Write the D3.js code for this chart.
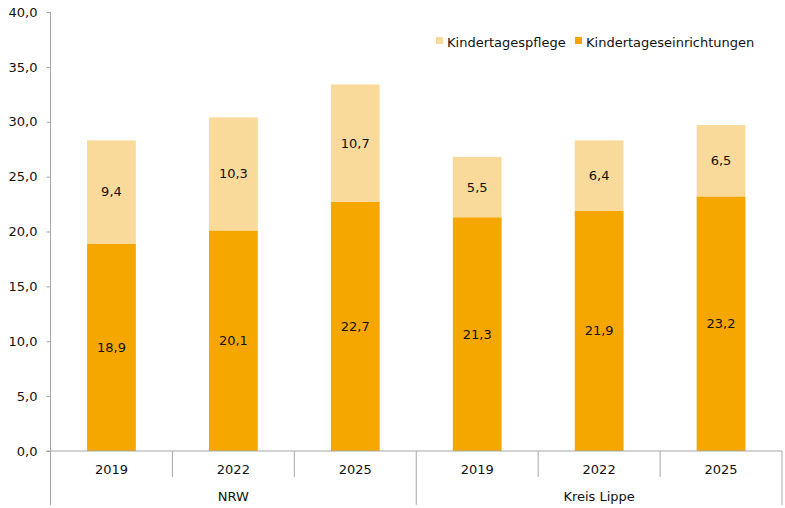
<!DOCTYPE html>
<html>
<head>
<meta charset="utf-8">
<script src="https://cdn.jsdelivr.net/npm/d3@7"></script>
<style>
  body { margin: 0; background: #fff; }
  text { font-family: "DejaVu Sans", sans-serif; font-size: 13px; fill: #111; }
</style>
</head>
<body>
<svg id="chart" width="785" height="508"></svg>
<script>
const groups = ['NRW', 'NRW', 'NRW', 'Kreis Lippe', 'Kreis Lippe', 'Kreis Lippe'];
const years = ['2019', '2022', '2025', '2019', '2022', '2025'];
const einrichtungen = [18.9, 20.1, 22.7, 21.3, 21.9, 23.2];
const pflege = [9.4, 10.3, 10.7, 5.5, 6.4, 6.5];
const yTicks = [0, 5, 10, 15, 20, 25, 30, 35, 40];
const seriesNames = ['Kindertagespflege', 'Kindertageseinrichtungen'];

const colors = { pflege: '#f9da9b', einr: '#f5a700', axis: '#a6a6a6' };
const fmt = (v) => d3.format('.1f')(v).replace('.', ',');

const margin = { left: 50.5, right: 3, top: 12, bottom: 57 };
const width = 785, height = 508;
const svg = d3.select('#chart');

const keys = d3.range(years.length);
const x = d3.scaleBand()
  .domain(keys)
  .range([margin.left, width - margin.right])
  .paddingInner(0.6)
  .paddingOuter(0.3);

const y = d3.scaleLinear()
  .domain([0, 40])
  .range([height - margin.bottom, margin.top]);

const y0 = y(0);

// y axis
const yAxis = svg.append('g')
  .attr('transform', `translate(${margin.left},0)`)
  .call(d3.axisLeft(y).tickValues(yTicks).tickSize(4).tickSizeOuter(0).tickFormat(fmt));
yAxis.select('.domain').attr('stroke', colors.axis).attr('d', `M0,${y(40)}V${y0 + 54}`);
yAxis.selectAll('.tick line').attr('stroke', colors.axis);
yAxis.selectAll('.tick text').attr('x', -13).attr('fill', '#111')
  .style('font-family', '"DejaVu Sans", sans-serif').style('font-size', '13px');

// bars
const step = x.step();
const edge = (i) => x(i) - step * 0.3;

svg.append('g').selectAll('rect')
  .data(keys)
  .join('rect')
  .attr('x', (i) => x(i))
  .attr('width', x.bandwidth())
  .attr('y', (i) => y(einrichtungen[i]))
  .attr('height', (i) => y0 - y(einrichtungen[i]))
  .attr('fill', colors.einr);

svg.append('g').selectAll('rect')
  .data(keys)
  .join('rect')
  .attr('x', (i) => x(i))
  .attr('width', x.bandwidth())
  .attr('y', (i) => y(einrichtungen[i] + pflege[i]))
  .attr('height', (i) => y(einrichtungen[i]) - y(einrichtungen[i] + pflege[i]))
  .attr('fill', colors.pflege);

// value labels
svg.append('g').selectAll('text')
  .data(keys)
  .join('text')
  .attr('x', (i) => x(i) + x.bandwidth() / 2)
  .attr('y', (i) => y(einrichtungen[i] / 2))
  .attr('text-anchor', 'middle')
  .attr('dominant-baseline', 'central')
  .text((i) => fmt(einrichtungen[i]));

svg.append('g').selectAll('text')
  .data(keys)
  .join('text')
  .attr('x', (i) => x(i) + x.bandwidth() / 2)
  .attr('y', (i) => y(einrichtungen[i] + pflege[i] / 2))
  .attr('text-anchor', 'middle')
  .attr('dominant-baseline', 'central')
  .text((i) => fmt(pflege[i]));

// x axis
const xg = svg.append('g');
xg.append('line')
  .attr('x1', margin.left - 4).attr('x2', edge(keys.length - 1) + step)
  .attr('y1', y0).attr('y2', y0)
  .attr('stroke', colors.axis);

const bounds = keys.map(edge).concat([edge(keys.length - 1) + step]);
xg.selectAll('line.sep')
  .data(bounds)
  .join('line')
  .attr('class', 'sep')
  .attr('x1', (d) => d).attr('x2', (d) => d)
  .attr('y1', y0)
  .attr('y2', (d, i) => (i === 0 || i === bounds.length - 1 || groups[i] !== groups[i - 1] ? y0 + 54 : y0 + 26))
  .attr('stroke', colors.axis);

xg.selectAll('text.year')
  .data(keys)
  .join('text')
  .attr('class', 'year')
  .attr('x', (i) => x(i) + x.bandwidth() / 2)
  .attr('y', y0 + 23)
  .attr('text-anchor', 'middle')
  .text((i) => years[i]);

const groupNames = Array.from(new Set(groups));
xg.selectAll('text.group')
  .data(groupNames)
  .join('text')
  .attr('class', 'group')
  .attr('x', (g) => {
    const idx = keys.filter((i) => groups[i] === g);
    return (edge(idx[0]) + edge(idx[idx.length - 1]) + step) / 2;
  })
  .attr('y', y0 + 50)
  .attr('text-anchor', 'middle')
  .text((g) => g);

// legend
const legend = svg.append('g').attr('transform', 'translate(436,47)');
const legendItems = [
  { name: seriesNames[0], color: colors.pflege, dx: 0 },
  { name: seriesNames[1], color: colors.einr, dx: 139 },
];
const li = legend.selectAll('g')
  .data(legendItems)
  .join('g')
  .attr('transform', (d) => `translate(${d.dx},0)`);
li.append('rect')
  .attr('x', 0).attr('y', -10).attr('width', 7).attr('height', 7)
  .attr('fill', (d) => d.color);
li.append('text')
  .attr('x', 11)
  .attr('y', 0)
  .text((d) => d.name);
</script>
</body>
</html>
